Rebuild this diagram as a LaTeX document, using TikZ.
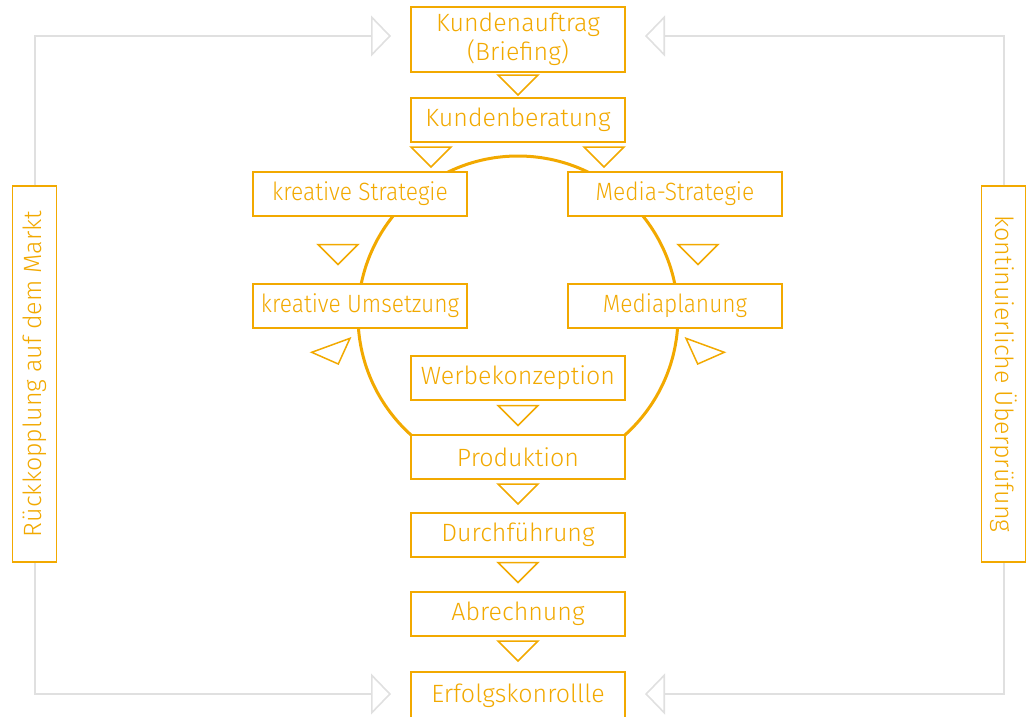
\documentclass[tikz,border=0pt]{standalone}
\usepackage{fontspec}
\usepackage{graphicx}
\setmainfont{Fira Sans Light}
\usetikzlibrary{arrows.meta}
\definecolor{orng}{HTML}{F2A900}
\definecolor{gry}{HTML}{E0E0E0}
\newcommand{\narrowtxt}[1]{\scalebox{0.91}[1]{#1}}
\tikzset{
  box/.style={draw=orng, line width=1.5pt, fill=white, minimum width=214pt,
    minimum height=44pt, inner sep=0pt, text=orng, align=center,
    font=\fontsize{25}{29}\selectfont},
  sidebox/.style={box, minimum width=376pt, minimum height=44pt},
  feed/.style={draw=gry, line width=2.2pt,
    -{Triangle[open, length=20pt, width=41pt, line width=1.6pt]}},
  tri/.pic={\draw[orng, line width=1.5pt, line join=miter] (-20,0) -- (20,0) -- (0,20) -- cycle;}
}
\begin{document}
\begin{tikzpicture}[x=1pt, y=-1pt]
\useasboundingbox (0,0) rectangle (1029,716);
\clip (0,0) rectangle (1029,716);
% ring
\draw[orng, line width=3pt] (518,316) circle[radius=160];
% nodes
\node[box, minimum height=65pt] (auftrag) at (518,39.5) {Kundenauftrag\\(Briefing)};
\node[box] (beratung) at (518,120) {Kundenberatung};
\node[box] (kstrat) at (360,194) {\narrowtxt{kreative Strategie}};
\node[box] (mstrat) at (675,194) {\narrowtxt{Media-Strategie}};
\node[box] (kums) at (360,306) {\narrowtxt{kreative Umsetzung}};
\node[box] (mplan) at (675,306) {\narrowtxt{Mediaplanung}};
\node[box] (werbe) at (518,378) {Werbekonzeption};
\node[box] (prod) at (518,457) {Produktion};
\node[box] (durch) at (518,535) {Durchführung};
\node[box] (abr) at (518,614) {Abrechnung};
\node[box, minimum height=48pt] (erfolg) at (518,696) {Erfolgskonrollle};
\node[sidebox, rotate=90] (lbox) at (34.7,374) {Rückkopplung auf dem Markt};
\node[sidebox, rotate=-90] (rbox) at (1003.7,374) {kontinuierliche Überprüfung};
% feedback connectors
\coordinate (tipTL) at (391,36);
\coordinate (tipBL) at (391,694);
\coordinate (tipTR) at (645,36);
\coordinate (tipBR) at (645,694);
\draw[feed] (lbox.east) |- (tipTL);
\draw[feed] (lbox.west) |- (tipBL);
\draw[feed] (rbox.west) |- (tipTR);
\draw[feed] (rbox.east) |- (tipBR);
% flow triangles
\pic at (518,75) {tri};
\pic at (431,147) {tri};
\pic at (604,147) {tri};
\pic at (338,244.5) {tri};
\pic at (698,244.5) {tri};
\pic at (518,405.5) {tri};
\pic at (518,484) {tri};
\pic at (518,562.5) {tri};
\pic at (518,641) {tri};
\draw[orng, line width=1.5pt] (311.7,352.3) -- (350,338.3) -- (338.3,364) -- cycle;
\draw[orng, line width=1.5pt] (724.3,352.3) -- (686,338.3) -- (697.7,364) -- cycle;
\end{tikzpicture}
\end{document}
